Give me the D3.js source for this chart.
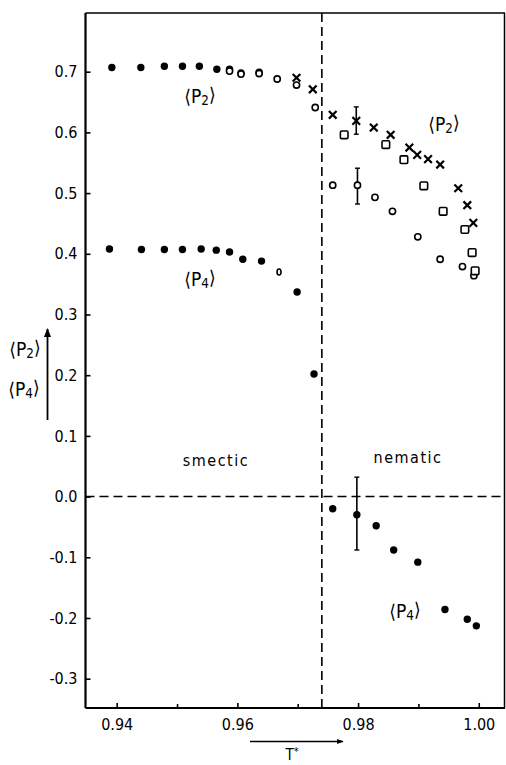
<!DOCTYPE html>
<html>
<head>
<meta charset="utf-8">
<script src="https://cdn.jsdelivr.net/npm/d3@7/dist/d3.min.js"></script>
<style>
  html, body { margin: 0; padding: 0; background: #fff; }
  svg text { font-family: "DejaVu Sans Condensed", "DejaVu Sans", sans-serif; font-stretch: condensed; fill: #000; }
</style>
</head>
<body>
<svg id="chart" width="506" height="765"></svg>
<script>
// ---- data ----
const transitionT = 0.974;

const p2FilledT = [0.9392, 0.9440, 0.9479, 0.9509, 0.9537, 0.9566, 0.9587, 0.9606, 0.9636];
const p2FilledV = [0.707, 0.707, 0.709, 0.709, 0.709, 0.704, 0.704, 0.698, 0.699];

const p2OpenT = [0.9587, 0.9606, 0.9636, 0.9666, 0.9698, 0.9729, 0.9758, 0.9799, 0.9828, 0.9857, 0.9899, 0.9936, 0.9973, 0.9992];
const p2OpenV = [0.701, 0.696, 0.697, 0.688, 0.678, 0.641, 0.513, 0.513, 0.493, 0.470, 0.428, 0.391, 0.379, 0.364];

const p2CrossT = [0.9698, 0.9725, 0.9758, 0.9797, 0.9826, 0.9854, 0.9885, 0.9898, 0.9916, 0.9936, 0.9966, 0.9981, 0.9991];
const p2CrossV = [0.690, 0.671, 0.629, 0.619, 0.608, 0.596, 0.575, 0.563, 0.556, 0.547, 0.508, 0.480, 0.451];

const p2SquareT = [0.9777, 0.9846, 0.9876, 0.9909, 0.9941, 0.9977, 0.9989, 0.9994];
const p2SquareV = [0.596, 0.580, 0.555, 0.512, 0.470, 0.440, 0.402, 0.372];

const p4FilledT = [0.9388, 0.9441, 0.9479, 0.9509, 0.9540, 0.9565, 0.9587, 0.9609, 0.9640, 0.9699, 0.9727,
                   0.9758, 0.9798, 0.9830, 0.9859, 0.9899, 0.9944, 0.9981, 0.9996];
const p4FilledV = [0.408, 0.407, 0.407, 0.407, 0.408, 0.406, 0.403, 0.391, 0.388, 0.337, 0.202,
                   -0.020, -0.030, -0.048, -0.088, -0.108, -0.186, -0.202, -0.213];

const p4OpenT = [0.9669];
const p4OpenV = [0.370];

// error bars: [T, low, high]
const errT = [0.9797, 0.9799, 0.9798];
const errLow = [0.597, 0.482, -0.088];
const errHigh = [0.642, 0.541, 0.032];

const xMajorTicks = [0.94, 0.96, 0.98, 1.00];
const xMinorTicks = [0.95, 0.97, 0.99];
const yTicks = [-0.3, -0.2, -0.1, 0.0, 0.1, 0.2, 0.3, 0.4, 0.5, 0.6, 0.7];

// ---- layout ----
const svg = d3.select("#chart");
const L = 85.5, R = 505, T = 13, B = 708;

const x = d3.scaleLinear().domain([0.93483, 1.00435]).range([L, R]);
const y = d3.scaleLinear().domain([-0.3483, 0.7967]).range([B, T]);

// frame top/right
svg.append("line").attr("x1", L).attr("x2", R).attr("y1", T).attr("y2", T)
  .attr("stroke", "#000").attr("stroke-width", 1.5);
svg.append("line").attr("x1", R - 0.5).attr("x2", R - 0.5).attr("y1", T).attr("y2", B)
  .attr("stroke", "#000").attr("stroke-width", 1.5);

// axes
const xAxis = d3.axisBottom(x).tickValues(xMajorTicks).tickSize(-5).tickPadding(11)
  .tickFormat(d => d.toFixed(2));
const gx = svg.append("g").attr("transform", `translate(0,${B})`).call(xAxis);
const xMinor = d3.axisBottom(x).tickValues(xMinorTicks).tickSize(-4).tickFormat("");
const gx2 = svg.append("g").attr("transform", `translate(0,${B})`).call(xMinor);
gx2.select(".domain").remove();

const yAxis = d3.axisLeft(y).tickValues(yTicks).tickSize(-5).tickPadding(8)
  .tickFormat(d => d.toFixed(1));
const gy = svg.append("g").attr("transform", `translate(${L},0)`).call(yAxis);

[gx, gx2, gy].forEach(g => {
  g.selectAll(".domain").attr("stroke", "#000").attr("stroke-width", 2.2);
  g.selectAll(".tick line").attr("stroke", "#000").attr("stroke-width", 1.6);
  g.selectAll(".tick text").style("font-size", "16px").attr("fill", "#000");
});
gx.select(".domain").attr("d", `M${L},0H${R}`);
gy.select(".domain").attr("d", `M0,${T}V${B}`);

// dashed reference lines
svg.append("line").attr("x1", x(transitionT)).attr("x2", x(transitionT)).attr("y1", T).attr("y2", B)
  .attr("stroke", "#000").attr("stroke-width", 1.6).attr("stroke-dasharray", "9,5");
svg.append("line").attr("x1", L).attr("x2", R).attr("y1", y(0)).attr("y2", y(0))
  .attr("stroke", "#000").attr("stroke-width", 1.5).attr("stroke-dasharray", "9,5");

// error bars
const eg = svg.append("g");
errT.forEach((t, i) => {
  const cx = x(t);
  eg.append("line").attr("x1", cx).attr("x2", cx).attr("y1", y(errLow[i])).attr("y2", y(errHigh[i]))
    .attr("stroke", "#000").attr("stroke-width", 1.6);
  [errLow[i], errHigh[i]].forEach(v => {
    eg.append("line").attr("x1", cx - 2.5).attr("x2", cx + 2.5).attr("y1", y(v)).attr("y2", y(v))
      .attr("stroke", "#000").attr("stroke-width", 1.4);
  });
});

const zip = (a, b) => a.map((t, i) => [t, b[i]]);

// filled circles
svg.append("g").selectAll("circle").data(zip(p2FilledT, p2FilledV).concat(zip(p4FilledT, p4FilledV)))
  .join("circle").attr("cx", d => x(d[0])).attr("cy", d => y(d[1])).attr("r", 3.7).attr("fill", "#000");

// open circles
svg.append("g").selectAll("circle").data(zip(p2OpenT, p2OpenV))
  .join("circle").attr("cx", d => x(d[0])).attr("cy", d => y(d[1])).attr("r", 3.1)
  .attr("fill", "#fff").attr("stroke", "#000").attr("stroke-width", 1.6);
svg.append("g").selectAll("ellipse").data(zip(p4OpenT, p4OpenV))
  .join("ellipse").attr("cx", d => x(d[0])).attr("cy", d => y(d[1])).attr("rx", 2).attr("ry", 3)
  .attr("fill", "#fff").attr("stroke", "#000").attr("stroke-width", 1.6);

// squares
svg.append("g").selectAll("rect").data(zip(p2SquareT, p2SquareV))
  .join("rect").attr("x", d => x(d[0]) - 3.8).attr("y", d => y(d[1]) - 3.8)
  .attr("width", 7.6).attr("height", 7.6).attr("rx", 1.2)
  .attr("fill", "#fff").attr("stroke", "#000").attr("stroke-width", 1.6);

// crosses
const crossPath = d3.symbol().type(d3.symbolX).size(40);
svg.append("g").selectAll("path").data(zip(p2CrossT, p2CrossV))
  .join("path").attr("transform", d => `translate(${x(d[0])},${y(d[1])})`)
  .attr("d", crossPath()).attr("fill", "none").attr("stroke", "#000").attr("stroke-width", 2.2);

// labels
function pLabel(cx, cy, sub, size) {
  const t = svg.append("text").attr("x", cx).attr("y", cy).attr("text-anchor", "middle")
    .attr("dominant-baseline", "middle").style("font-size", size + "px");
  t.append("tspan").text("\u27E8P");
  t.append("tspan").attr("dy", "0.3em").style("font-size", (size * 0.7) + "px").text(sub);
  t.append("tspan").attr("dy", "-0.3em").text("\u27E9");
}
pLabel(200, 97, "2", 19);
pLabel(444, 125, "2", 19);
pLabel(200, 280, "4", 19);
pLabel(405, 612, "4", 19);
pLabel(25, 350, "2", 19);
pLabel(24, 390, "4", 19);

svg.append("text").attr("x", 216).attr("y", 461).attr("text-anchor", "middle")
  .attr("dominant-baseline", "middle").style("font-size", "16px").style("letter-spacing", "1.5px").text("smectic");
svg.append("text").attr("x", 408).attr("y", 458).attr("text-anchor", "middle")
  .attr("dominant-baseline", "middle").style("font-size", "16px").style("letter-spacing", "1.5px").text("nematic");

// axis arrows
const defs = svg.append("defs");
defs.append("marker").attr("id", "arr").attr("viewBox", "0 0 10 10").attr("refX", 9).attr("refY", 5)
  .attr("markerWidth", 5).attr("markerHeight", 5).attr("orient", "auto")
  .append("path").attr("d", "M0,1L10,5L0,9Z").attr("fill", "#000");
svg.append("line").attr("x1", 47.5).attr("x2", 47.5).attr("y1", 420).attr("y2", 329)
  .attr("stroke", "#000").attr("stroke-width", 1.8).attr("marker-end", "url(#arr)");
svg.append("line").attr("x1", 250).attr("x2", 343).attr("y1", 741.5).attr("y2", 741.5)
  .attr("stroke", "#000").attr("stroke-width", 1.3).attr("marker-end", "url(#arr)");

const tl = svg.append("text").attr("x", 292).attr("y", 760).attr("text-anchor", "middle").style("font-size", "15px");
tl.append("tspan").text("T");
tl.append("tspan").attr("dy", "-0.45em").style("font-size", "11px").text("*");
</script>
</body>
</html>
